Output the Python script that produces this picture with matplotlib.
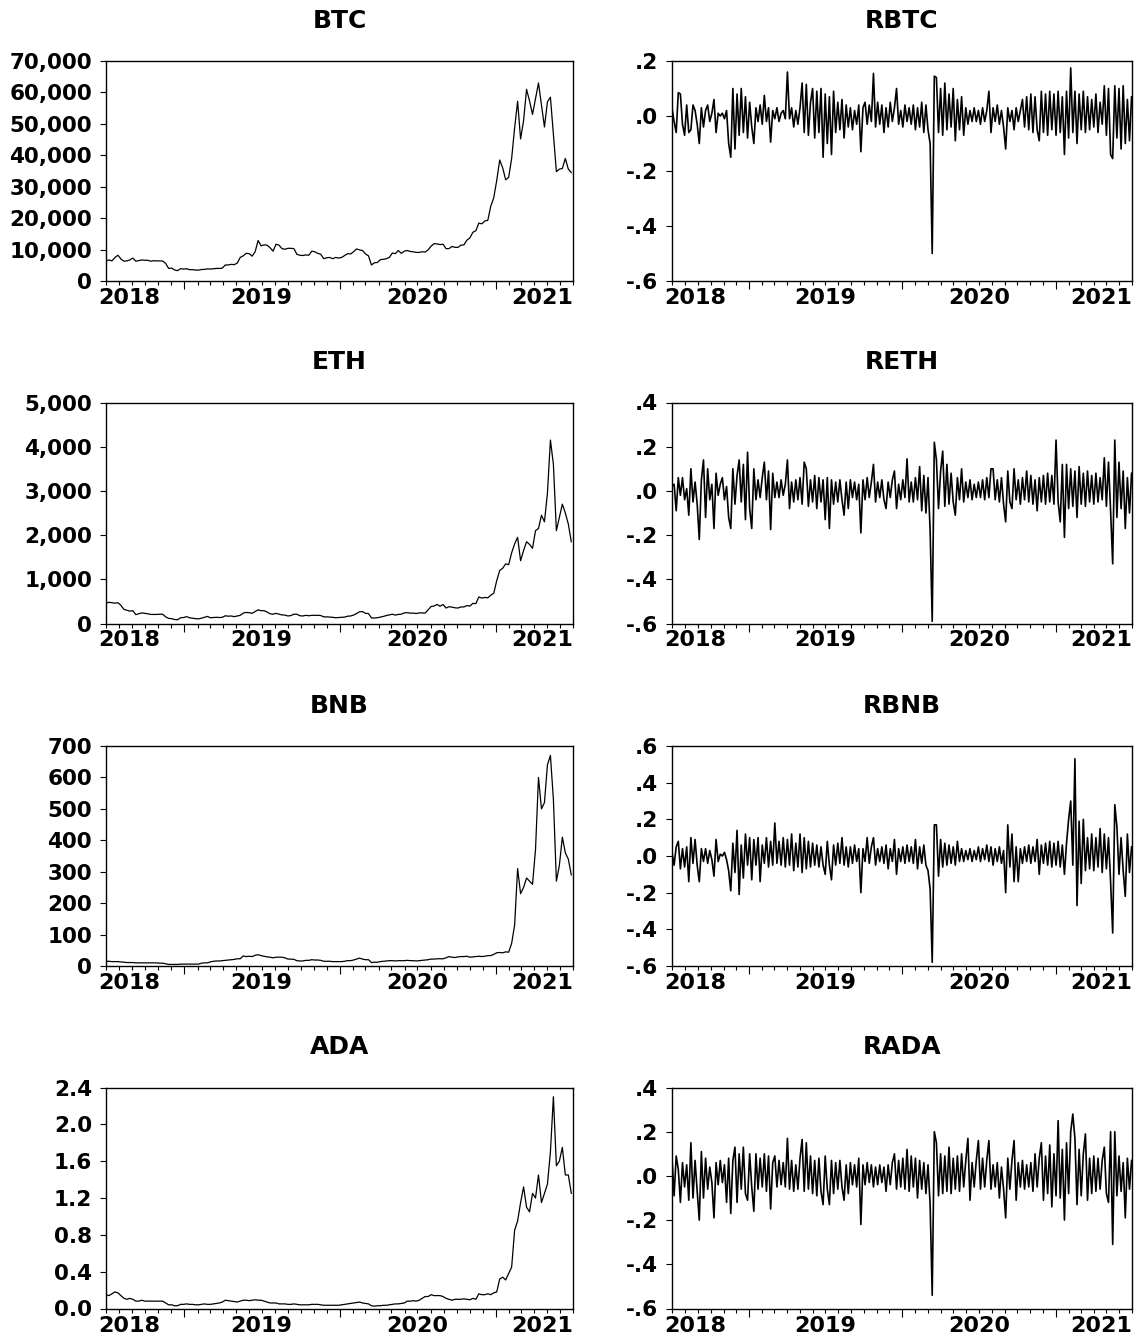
import matplotlib

matplotlib.use("Agg")

import matplotlib.dates as mdates
import matplotlib.pyplot as plt
import matplotlib.ticker as mticker
import pandas as pd
from matplotlib.transforms import ScaledTranslation, blended_transform_factory

price_dates = pd.date_range("2018-07-01", periods=157, freq="7D")
# returns: one value every 5 days
return_dates = pd.date_range("2018-07-01", periods=220, freq="5D")

btc = [
    6400, 6700, 6400, 7500, 8200, 7000, 6300, 6400, 6700, 7300, 6300, 6500, 6700, 6600,
    6600, 6300, 6450, 6400, 6400, 6350, 5600, 4000, 4100, 3500, 3300, 3900, 3800,
    3900, 3600, 3600, 3500, 3450, 3650, 3700, 3850, 3800, 3900, 4000, 4000, 4100,
    5100, 5100, 5300, 5200, 5700, 7500, 8000, 8800, 8700, 7900, 9300, 12900, 11200,
    11500, 11400, 10600, 9500, 11700, 11400, 10300, 10100, 10400, 10400, 10300, 8500, 8200,
    8100, 8300, 8200, 9500, 9300, 8800, 8500, 7100, 7400, 7500, 7100, 7500, 7300,
    7500, 8100, 8700, 8600, 9300, 10200, 9900, 9700, 8600, 8000, 5100, 5800, 5900,
    6800, 6900, 7100, 7500, 8900, 8700, 9700, 8800, 9500, 9700, 9400, 9300, 9100,
    9100, 9300, 9200, 9900, 11100, 11900, 11800, 11600, 11700, 10300, 10300, 11000, 10700,
    10700, 11400, 11500, 13000, 13700, 15500, 16000, 18400, 18200, 19100, 19300, 23800, 26500,
    32000, 38500, 36000, 32200, 33000, 39000, 48700, 57200, 45200, 51000, 61000, 57300, 53000,
    58000, 63000, 56000, 49000, 57000, 58500, 46500, 34800, 35600, 35800, 39000, 35600, 34500,
]

eth = [
    460, 480, 470, 460, 470, 410, 320, 300, 280, 290, 200, 220, 240, 230,
    220, 205, 205, 205, 210, 210, 150, 115, 110, 90, 85, 130, 135,
    155, 130, 120, 110, 105, 120, 140, 160, 130, 135, 140, 135, 140,
    175, 165, 170, 155, 170, 185, 235, 250, 245, 230, 270, 310, 290,
    290, 260, 220, 210, 230, 210, 195, 190, 170, 180, 210, 210, 175,
    170, 185, 175, 185, 185, 185, 180, 150, 150, 145, 140, 130, 135,
    140, 145, 165, 170, 190, 225, 265, 270, 230, 225, 125, 125, 130,
    145, 160, 180, 195, 210, 190, 205, 210, 240, 245, 235, 235, 225,
    240, 240, 235, 310, 385, 395, 430, 390, 430, 350, 380, 370, 355,
    350, 375, 375, 405, 395, 455, 450, 600, 575, 590, 580, 640, 685,
    970, 1200, 1250, 1350, 1330, 1600, 1800, 1950, 1420, 1650, 1850, 1790, 1700,
    2100, 2150, 2450, 2300, 2950, 4150, 3600, 2100, 2400, 2700, 2500, 2250, 1850,
]

bnb = [
    15, 15, 14, 14, 14, 13, 12, 11, 11, 11, 10, 10, 10, 10,
    10, 10, 10, 10, 9, 9, 7, 5, 5, 5, 5, 6, 6,
    6, 6, 6, 6, 6, 9, 10, 10, 13, 15, 16, 16, 17,
    18, 19, 20, 21, 23, 23, 32, 30, 31, 30, 34, 36, 33,
    31, 29, 28, 26, 28, 28, 28, 26, 22, 22, 21, 17, 16,
    16, 18, 18, 20, 19, 19, 18, 15, 15, 15, 14, 14, 14,
    14, 15, 17, 17, 19, 22, 25, 22, 20, 20, 11, 12, 12,
    14, 15, 16, 17, 17, 16, 17, 17, 17, 18, 17, 17, 16,
    17, 18, 19, 20, 22, 22, 23, 23, 23, 26, 30, 28, 27,
    29, 30, 30, 31, 28, 29, 30, 31, 30, 31, 33, 33, 37,
    42, 43, 42, 45, 44, 72, 130, 310, 230, 250, 280, 270, 260,
    370, 600, 500, 520, 640, 670, 530, 270, 320, 410, 360, 340, 290,
]

ada = [
    .15, .14, .16, .18, .17, .14, .11, .10, .11, .10, .08, .08, .09, .08,
    .08, .08, .08, .08, .08, .08, .06, .04, .04, .03, .03, .045, .045,
    .05, .045, .045, .04, .04, .045, .05, .045, .045, .05, .055, .06, .07,
    .09, .085, .08, .075, .07, .08, .09, .09, .085, .09, .095, .09, .09,
    .08, .07, .06, .06, .06, .05, .05, .05, .045, .045, .05, .045, .04,
    .04, .04, .04, .045, .045, .045, .04, .035, .035, .035, .035, .035, .035,
    .04, .045, .05, .055, .06, .065, .07, .06, .055, .05, .03, .025, .03,
    .03, .035, .035, .04, .045, .05, .05, .055, .06, .08, .08, .085, .08,
    .09, .11, .13, .13, .15, .14, .14, .14, .13, .11, .10, .09, .10,
    .10, .10, .105, .10, .095, .11, .10, .16, .15, .15, .16, .15, .17,
    .18, .32, .34, .31, .38, .45, .85, .95, 1.15, 1.32, 1.10, 1.05, 1.25,
    1.20, 1.45, 1.15, 1.25, 1.35, 1.70, 2.30, 1.55, 1.60, 1.75, 1.45, 1.45, 1.25,
]

rbtc = [
    .03, -.02, -.06, .085, .08, -.03, -.07, .04, -.06, -.05,
    .04, .02, -.03, -.10, .03, -.04, .02, .04, -.02, .01,
    .06, -.06, .01, .00, .01, -.01, .02, -.10, -.15, .10,
    -.12, .08, -.07, .10, -.06, .07, -.08, .05, -.04, -.10,
    .03, -.02, .04, -.03, .075, -.02, .03, -.095, .02, -.01,
    .03, -.02, .01, .02, -.01, .16, -.01, .03, -.04, .02,
    -.03, .03, .12, -.06, .115, -.07, .05, .10, -.08, .09,
    -.06, .10, -.15, .08, -.10, .07, -.14, .09, -.06, .05,
    -.05, .06, -.08, .04, -.04, .03, -.05, .02, -.03, .04,
    -.13, .03, .05, -.03, .04, -.02, .155, -.04, .05, -.03,
    .04, -.06, .03, -.04, .05, -.02, .03, .10, -.03, .02,
    -.04, .04, -.02, .03, -.03, .04, -.05, .03, -.04, .05,
    -.06, .04, -.05, -.10, -.50, .145, .14, -.06, .10, -.07,
    .12, -.05, .08, -.04, .10, -.09, .06, -.05, .07, -.07,
    .03, -.03, .02, -.02, .03, -.02, .02, -.03, .03, -.02,
    .02, .09, -.06, .03, -.02, .04, -.03, .02, -.04, -.12,
    .03, -.02, .02, -.05, .03, -.02, .02, .06, -.04, .07,
    -.05, .08, -.06, .07, -.05, -.09, .09, -.06, .08, -.07,
    .09, -.05, .08, -.07, .09, -.06, .07, -.14, .09, -.08,
    .175, -.06, .09, -.10, .08, -.05, .09, -.06, .07, -.05,
    .06, -.04, .08, -.06, .05, -.03, .11, -.07, .10, -.14,
    -.155, .11, -.08, .10, -.12, .11, -.10, .06, -.09, .07,
]

reth = [
    .02, .03, -.09, .06, -.02, .06, -.04, .01, -.11, .10,
    -.05, .04, -.06, -.22, .05, .14, -.12, .10, -.04, .03,
    -.17, .08, -.02, .03, .06, -.04, .02, -.12, -.17, .10,
    -.06, .07, .14, -.05, .12, -.13, .175, -.08, -.17, .10,
    -.04, .05, -.03, .06, .13, -.04, .09, -.175, .08, -.03,
    .04, -.03, .05, -.02, .03, .14, -.08, .04, -.05, .05,
    -.04, .06, -.06, .13, .10, -.07, .05, -.05, .07, -.08,
    .06, -.05, .05, -.13, .06, -.17, .05, -.06, .04, -.05,
    .05, -.04, -.11, .04, -.08, .05, -.03, .04, -.04, .03,
    -.19, .05, -.04, .06, -.03, .04, .12, -.05, .04, -.03,
    .05, -.04, -.08, .04, -.03, .05, .09, -.08, .03, -.04,
    .05, -.03, .145, -.05, .04, -.05, .06, -.04, .11, -.09,
    .07, -.10, .06, -.18, -.59, .22, .14, -.08, .09, .18,
    -.07, .12, -.06, .08, -.05, -.11, .06, -.04, .10, -.05,
    .04, -.03, .05, -.04, .03, -.03, .04, -.03, .05, -.04,
    .06, -.03, .10, .10, -.04, .05, -.05, .06, -.06, -.14,
    .09, -.05, -.08, .10, -.04, .05, -.06, .06, -.04, .09,
    -.05, .07, -.06, .05, -.09, .06, -.05, .07, -.06, .08,
    -.05, .07, -.06, .23, -.05, -.14, .12, -.21, .12, -.08,
    .10, -.07, .09, -.12, .11, -.06, .08, -.07, .09, -.05,
    .07, -.06, .08, -.05, .06, -.04, .15, -.07, .13, -.09,
    -.33, .23, -.12, .13, -.08, .09, -.17, .06, -.10, .08,
]

rbnb = [
    .02, -.05, .05, .08, -.07, .04, -.06, .05, -.14, .10,
    -.04, .09, -.05, -.14, .04, -.03, .04, -.04, .03, -.02,
    -.11, .09, -.03, .01, .00, .02, -.02, -.08, -.19, .07,
    -.09, .14, -.21, .06, -.12, .12, -.05, .10, -.13, .09,
    -.05, .10, -.14, .06, -.04, .10, -.06, .08, -.05, .18,
    -.04, .08, -.05, .10, -.06, .09, -.05, .12, -.08, .07,
    -.06, .12, -.09, .10, -.07, .08, -.06, .07, -.05, .06,
    -.06, .05, -.05, -.10, .08, -.05, -.13, .06, -.05, .07,
    -.04, .10, -.05, .05, -.06, .05, -.04, .06, -.03, .04,
    -.20, .04, -.03, .10, -.04, .05, .10, -.05, .04, -.03,
    .05, -.04, .06, -.07, .04, -.03, .09, -.10, .04, -.03,
    .05, -.04, .06, -.03, .05, -.04, .09, -.07, .05, -.04,
    .06, -.05, -.08, -.18, -.58, .17, .17, -.11, .09, -.06,
    .07, -.05, .06, -.04, .05, -.05, .08, -.03, .04, -.03,
    .03, -.02, .04, -.03, .03, -.02, .05, -.03, .04, -.02,
    .06, -.03, .05, -.05, .04, -.03, .05, -.04, .03, -.20,
    .17, -.06, .12, -.14, .05, -.14, .04, -.04, .05, -.03,
    .06, -.04, .05, -.03, .09, -.10, .06, -.04, .07, -.05,
    .08, -.06, .07, -.05, .08, -.06, .06, -.10, .07, .20,
    .30, -.05, .53, -.27, .19, -.15, .20, -.08, .10, -.07,
    .12, -.08, .10, -.06, .15, -.09, .12, -.07, .10, -.14,
    -.42, .28, .16, -.10, .10, -.08, -.22, .12, -.09, .05,
]

rada = [
    .08, -.09, .09, .03, -.12, .06, -.05, .05, -.11, .15,
    -.10, .07, -.07, -.20, .11, -.10, .08, -.06, .04, -.03,
    -.19, .06, -.04, .07, -.03, .05, -.12, .08, -.17, .07,
    .13, -.12, .10, -.06, .13, -.08, -.11, .10, -.05, -.16,
    .10, -.06, .08, -.05, .10, -.07, .09, -.15, .06, .09,
    -.05, .07, -.04, .06, -.05, .17, -.06, .07, -.07, .05,
    -.06, .08, .165, -.07, .15, -.06, .09, -.08, .07, -.09,
    .08, -.07, -.13, .09, -.06, -.13, .07, -.08, .06, -.06,
    .07, -.05, -.11, .05, -.08, .06, -.04, .05, -.05, .08,
    -.22, .05, -.04, .06, -.03, .05, -.05, .04, -.04, .05,
    -.03, .04, -.07, .05, -.04, .06, .10, -.06, .07, -.05,
    .08, -.06, .12, -.07, .09, -.05, .08, -.10, .07, -.06,
    .06, -.08, .05, -.13, -.54, .20, .15, -.09, .10, -.08,
    .09, -.07, .13, -.08, .08, -.06, .09, -.07, .10, -.05,
    .07, .17, -.11, .06, -.05, .07, .16, -.06, .08, -.05,
    .07, .16, -.06, .05, -.05, .06, -.10, .04, -.06, -.19,
    .08, -.06, .07, .16, -.11, .06, -.05, .07, -.06, .05,
    -.05, .06, -.07, .10, -.05, .08, .15, -.11, .09, -.08,
    .14, -.14, .10, -.09, .25, -.10, .12, -.20, .15, -.08,
    .20, .28, .17, -.13, .12, -.09, .10, .19, -.11, .08,
    -.08, .09, -.07, .08, -.06, .07, .13, -.08, -.12, .20,
    -.31, .20, -.09, .09, -.07, .06, -.19, .08, -.06, .07,
]

btc_ticks = [0, 10000, 20000, 30000, 40000, 50000, 60000, 70000]
eth_ticks = [0, 1000, 2000, 3000, 4000, 5000]
bnb_ticks = [0, 100, 200, 300, 400, 500, 600, 700]
ada_ticks = [0.0, 0.4, 0.8, 1.2, 1.6, 2.0, 2.4]
rbtc_ticks = [-0.6, -0.4, -0.2, 0.0, 0.2]
reth_ticks = [-0.6, -0.4, -0.2, 0.0, 0.2, 0.4]
rbnb_ticks = [-0.6, -0.4, -0.2, 0.0, 0.2, 0.4, 0.6]
rada_ticks = [-0.6, -0.4, -0.2, 0.0, 0.2, 0.4]

year_labels = ["2018", "2019", "2020", "2021"]

plt.rcParams["font.family"] = ["DejaVu Sans"]
plt.rcParams["font.weight"] = "bold"

x_start = pd.Timestamp("2018-07-01")
x_end = pd.Timestamp("2021-07-01")

comma_fmt = mticker.StrMethodFormatter("{x:,.0f}")
one_dec_fmt = mticker.StrMethodFormatter("{x:.1f}")
# EViews style: ".2", "-.4" (no leading zero)
short_fmt = mticker.FuncFormatter(lambda v, pos: f"{v:.1f}".replace("0.", ".", 1))

fig = plt.figure(figsize=(11.45, 13.44), dpi=100)

W, H = 1145, 1344
left_col = (106 / W, 467 / W)
right_col = (672 / W, 460 / W)
row_px = [(61, 281), (402.5, 623.5), (746, 966), (1087.5, 1308.5)]


def draw_panel(col, row, title, dates, values, yticks, fmt, lw=0.9):
    top, bottom = row_px[row]
    x0, w = col
    ax = fig.add_axes([x0, 1 - bottom / H, w, (bottom - top) / H])

    ax.plot(dates, values, color="black", linewidth=lw)

    ax.set_xlim(x_start, x_end)
    ax.set_ylim(yticks[0], yticks[-1])
    ax.set_yticks(yticks)
    ax.yaxis.set_major_formatter(fmt)

    ax.xaxis.set_major_locator(mdates.YearLocator())
    ax.xaxis.set_minor_locator(mdates.MonthLocator())
    ax.xaxis.set_major_formatter(mticker.NullFormatter())

    ax.tick_params(axis="x", which="major", direction="out", length=5.5, width=0.8, top=False)
    ax.tick_params(axis="x", which="minor", direction="out", length=3, width=0.8, top=False)
    ax.tick_params(axis="y", direction="out", length=4.5, width=0.8, pad=5.5,
                   labelsize=15.5, right=False)
    for spine in ax.spines.values():
        spine.set_linewidth(1.0)

    ax.set_title(title, fontsize=18, fontweight="bold", pad=24)

    # year labels sit in the middle of each year, pushed inside at both ends
    base = blended_transform_factory(ax.transData, ax.transAxes)
    label_pos = [
        (pd.Timestamp("2018-07-01"), "left", -0.08),
        (pd.Timestamp("2019-07-01"), "center", 0.0),
        (pd.Timestamp("2020-07-01"), "center", 0.0),
        (pd.Timestamp("2021-07-01"), "right", 0.0),
    ]
    for label, (when, ha, dx) in zip(year_labels, label_pos):
        tr = base + ScaledTranslation(dx, -0.07, fig.dpi_scale_trans)
        ax.text(mdates.date2num(when), 0, label, transform=tr, ha=ha, va="top",
                fontsize=16, fontweight="bold")
    return ax


draw_panel(left_col, 0, "BTC", price_dates, btc, btc_ticks, comma_fmt)
draw_panel(right_col, 0, "RBTC", return_dates, rbtc, rbtc_ticks, short_fmt, lw=1.2)
draw_panel(left_col, 1, "ETH", price_dates, eth, eth_ticks, comma_fmt)
draw_panel(right_col, 1, "RETH", return_dates, reth, reth_ticks, short_fmt, lw=1.2)
draw_panel(left_col, 2, "BNB", price_dates, bnb, bnb_ticks, comma_fmt)
draw_panel(right_col, 2, "RBNB", return_dates, rbnb, rbnb_ticks, short_fmt, lw=1.2)
draw_panel(left_col, 3, "ADA", price_dates, ada, ada_ticks, one_dec_fmt)
draw_panel(right_col, 3, "RADA", return_dates, rada, rada_ticks, short_fmt, lw=1.2)

fig.savefig("out.png", dpi=100)
